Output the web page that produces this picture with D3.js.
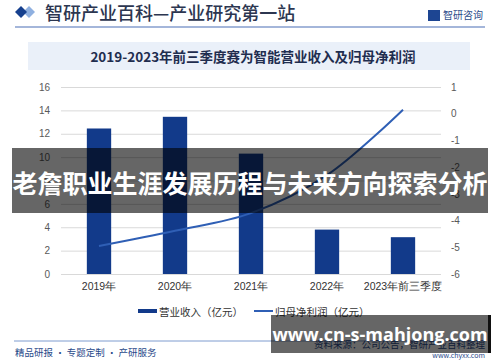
<!DOCTYPE html>
<html>
<head>
<meta charset="utf-8">
<script src="https://cdn.jsdelivr.net/npm/d3@7"></script>
<style>
  html, body { margin: 0; padding: 0; background: #fff; }
  svg { display: block; font-family: "Noto Sans CJK SC", "Noto Sans", sans-serif; }
</style>
</head>
<body>
<script>
const width = 500;
const height = 362;
const margin = {top: 87, left: 61, bottom: 88, right: 59};

const categories = ['2019年', '2020年', '2021年', '2022年', '2023年前三季度'];
const revenue = [12.45, 13.45, 10.3, 3.8, 3.15];       // 营业收入（亿元）
const netProfit = [-4.95, -4.38, -3.72, -2.3, 0.15];   // 归母净利润（亿元）
const leftTicks = [0, 2, 4, 6, 8, 10, 12, 14, 16];
const rightTicks = [-6, -5, -4, -3, -2, -1, 0, 1];

const barColor = '#123a8a';
const lineColor = '#2f5fb5';

const svg = d3.select('body').append('svg')
  .attr('width', width).attr('height', height);

// header
svg.append('path').attr('d', 'M29,6 L35,12 L29,18 L23,12 Z').attr('fill', '#8fb0e0');
svg.append('path').attr('d', 'M21,6 L27,12 L21,18 L15,12 Z').attr('fill', '#16408e');
svg.append('text').attr('x', 45).attr('y', 20)
  .attr('font-size', 18).attr('font-weight', 500).attr('fill', '#2c3650')
  .text('智研产业百科—产业研究第一站');
svg.append('rect').attr('x', 428).attr('y', 10).attr('width', 12).attr('height', 11).attr('fill', '#1d4592');
svg.append('text').attr('x', 443).attr('y', 19)
  .attr('font-size', 10).attr('fill', '#2a4a8a').text('智研咨询');
svg.append('line').attr('x1', 15).attr('x2', 485).attr('y1', 27).attr('y2', 27)
  .attr('stroke', '#4a6fb5').attr('stroke-width', 1.2);

// chart title box
svg.append('rect').attr('x', 28).attr('y', 42).attr('width', 442).attr('height', 28).attr('fill', '#eaf0f9');
svg.append('text').attr('x', 253).attr('y', 62).attr('text-anchor', 'middle')
  .attr('font-size', 13.5).attr('font-weight', 700).attr('fill', '#1f2d4f')
  .text('2019-2023年前三季度赛为智能营业收入及归母净利润');

// scales
const x = d3.scaleBand()
  .domain(categories)
  .range([margin.left, width - margin.right])
  .paddingInner(0.68).paddingOuter(0.34);

const y = d3.scaleLinear()
  .domain([0, 16])
  .range([height - margin.bottom, margin.top]);

const y2 = d3.scaleLinear()
  .domain([-6, 1])
  .range([height - margin.bottom, margin.top]);

// gridlines + left axis
const yAxis = g => g
  .attr('transform', `translate(${margin.left}, 0)`)
  .call(d3.axisLeft(y).tickValues(leftTicks)
    .tickSize(-(width - margin.left - margin.right)).tickPadding(11))
  .call(g => g.select('.domain').remove())
  .call(g => g.selectAll('.tick line').attr('stroke', '#d9d9d9'))
  .call(g => g.selectAll('.tick text').attr('fill', '#595959').attr('font-size', 10)
    .attr('font-family', '"Liberation Sans", Arial, sans-serif'));

const y2Axis = g => g
  .attr('transform', `translate(${width - margin.right}, 0)`)
  .call(d3.axisRight(y2).tickValues(rightTicks).tickFormat(d => String(d))
    .tickSize(0).tickPadding(10))
  .call(g => g.select('.domain').remove())
  .call(g => g.selectAll('.tick text').attr('fill', '#595959').attr('font-size', 10)
    .attr('font-family', '"Liberation Sans", Arial, sans-serif'));

const xAxis = g => g
  .attr('transform', `translate(0, ${height - margin.bottom})`)
  .call(d3.axisBottom(x).tickSize(0).tickPadding(9))
  .call(g => g.select('.domain').remove())
  .call(g => g.selectAll('.tick text').attr('fill', '#333').attr('font-size', 10.5));

svg.append('g').call(yAxis);
svg.append('g').call(y2Axis);
svg.append('g').call(xAxis);

// bars
svg.append('g')
  .attr('fill', barColor)
  .selectAll('rect').data(categories).enter().append('rect')
  .attr('x', d => x(d))
  .attr('y', (d, i) => y(revenue[i]))
  .attr('height', (d, i) => y(0) - y(revenue[i]))
  .attr('width', x.bandwidth());

// line
const line = d3.line()
  .x((d, i) => x(categories[i]) + x.bandwidth() / 2)
  .y(d => y2(d))
  .curve(d3.curveCatmullRom.alpha(0.5));

svg.append('path')
  .datum(netProfit)
  .attr('fill', 'none')
  .attr('stroke', lineColor)
  .attr('stroke-width', 2)
  .attr('d', line);

// legend
const legend = svg.append('g').attr('font-size', 10.5).attr('fill', '#333');
legend.append('rect').attr('x', 138).attr('y', 309).attr('width', 19).attr('height', 4).attr('fill', barColor);
legend.append('text').attr('x', 159).attr('y', 315.5).text('营业收入（亿元）');
legend.append('line').attr('x1', 254).attr('x2', 273).attr('y1', 311).attr('y2', 311)
  .attr('stroke', lineColor).attr('stroke-width', 2);
legend.append('text').attr('x', 275).attr('y', 315.5).text('归母净利润（亿元）');

// footer
svg.append('line').attr('x1', 14).attr('x2', 485).attr('y1', 341).attr('y2', 341)
  .attr('stroke', '#7f9ccf').attr('stroke-width', 1);
svg.append('text').attr('x', 15).attr('y', 356).attr('font-size', 9.5).attr('fill', '#2a4a8a')
  .text('精品研报 · 专题定制 · 产研服务');
svg.append('text').attr('x', 485).attr('y', 348).attr('text-anchor', 'end')
  .attr('font-size', 9.5).attr('fill', '#2a4a8a').text('资料来源：公司公告，智研产业百科整理');
svg.append('text').attr('x', 485).attr('y', 358).attr('text-anchor', 'end')
  .attr('font-size', 7).attr('fill', '#2a4a8a').text('www.chyxx.com');

// overlay banners
svg.append('rect').attr('x', 12).attr('y', 148).attr('width', 476).attr('height', 65)
  .attr('fill', 'rgba(0,0,0,0.6)');
svg.append('text').attr('x', 250).attr('y', 193).attr('text-anchor', 'middle')
  .attr('font-size', 25).attr('font-weight', 700).attr('fill', '#fff')
  .text('老詹职业生涯发展历程与未来方向探索分析');

svg.append('rect').attr('x', 271).attr('y', 315).attr('width', 219).attr('height', 38)
  .attr('fill', 'rgba(0,0,0,0.6)');
svg.append('rect').attr('x', 488).attr('y', 315).attr('width', 3).attr('height', 38).attr('fill', '#111');
svg.append('text').attr('x', 380).attr('y', 341).attr('text-anchor', 'middle')
  .attr('font-size', 18).attr('font-weight', 700).attr('fill', '#fff')
  .attr('font-family', '"Open Sans", "Noto Sans", sans-serif')
  .text('www.cn-s-mahjong.com');

svg.node();
</script>
</body>
</html>
